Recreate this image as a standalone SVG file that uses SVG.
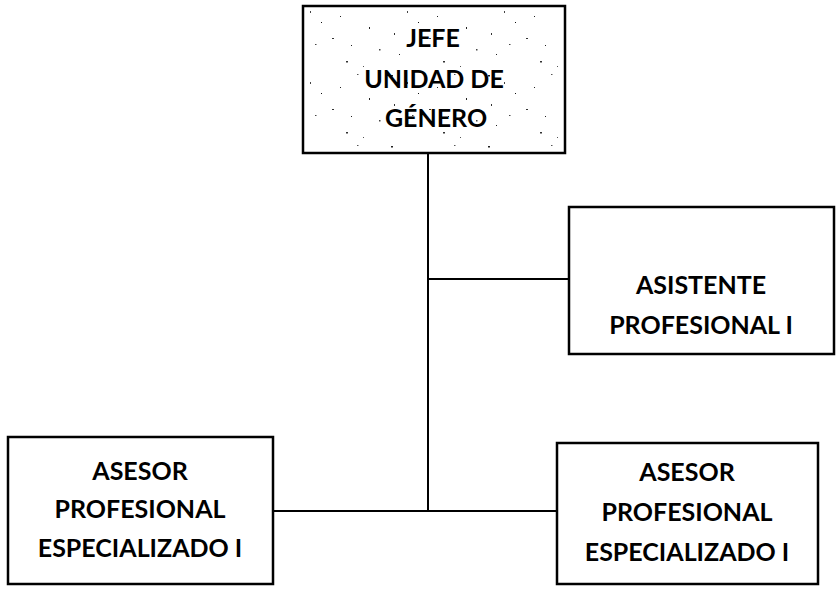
<svg xmlns="http://www.w3.org/2000/svg" width="837" height="592" viewBox="0 0 837 592">
  <style>
    .box { fill: #ffffff; stroke: #000000; stroke-width: 2.5; }
    .lbl { font-family: Lato, "Open Sans", "Liberation Sans", sans-serif; font-weight: bold; font-size: 25px; fill: #000000; text-anchor: middle; }
    .conn { stroke: #000000; stroke-width: 2; fill: none; }
  </style>
  <defs>
    <pattern id="speck" width="97" height="71" patternUnits="userSpaceOnUse">
      <rect x="3" y="4" width="2" height="1.5" fill="#222"/>
      <rect x="19" y="11" width="1" height="2" fill="#444"/>
      <rect x="41" y="38" width="2" height="1" fill="#333"/>
      <rect x="11" y="54" width="1" height="1" fill="#222"/>
      <rect x="66" y="3" width="1.5" height="1" fill="#555"/>
      <rect x="78" y="27" width="1" height="2" fill="#222"/>
      <rect x="55" y="61" width="2" height="1.5" fill="#333"/>
      <rect x="30" y="22" width="1" height="1" fill="#111"/>
      <rect x="88" y="49" width="1.5" height="1.5" fill="#444"/>
      <rect x="6" y="33" width="1" height="2" fill="#333"/>
      <rect x="49" y="16" width="1" height="1" fill="#222"/>
      <rect x="72" y="66" width="1" height="1" fill="#555"/>
      <rect x="24" y="44" width="1.5" height="1" fill="#444"/>
      <rect x="60" y="45" width="1" height="1" fill="#222"/>
    </pattern>
  </defs>
  <rect width="837" height="592" fill="#ffffff"/>
  <g id="connectors">
    <line class="conn" x1="428" y1="153" x2="428" y2="511"/>
    <line class="conn" x1="428" y1="279" x2="569" y2="279"/>
    <line class="conn" x1="273" y1="511" x2="557" y2="511"/>
  </g>
  <g id="jefe">
    <rect class="box" x="303" y="6" width="262" height="147"/>
    <rect x="305" y="8" width="258" height="143" fill="url(#speck)"/>
    <text class="lbl" x="433" y="47">JEFE</text>
    <text class="lbl" x="434" y="88">UNIDAD DE</text>
    <text class="lbl" x="436" y="127">GÉNERO</text>
  </g>
  <g id="asistente">
    <rect class="box" x="569" y="207" width="265" height="147"/>
    <text class="lbl" x="701" y="294">ASISTENTE</text>
    <text class="lbl" x="701" y="334">PROFESIONAL I</text>
  </g>
  <g id="asesor1">
    <rect class="box" x="8" y="437" width="265" height="147"/>
    <text class="lbl" x="140" y="480">ASESOR</text>
    <text class="lbl" x="140" y="518">PROFESIONAL</text>
    <text class="lbl" x="140" y="557">ESPECIALIZADO I</text>
  </g>
  <g id="asesor2">
    <rect class="box" x="557" y="443" width="261" height="141"/>
    <text class="lbl" x="687" y="481">ASESOR</text>
    <text class="lbl" x="687" y="521">PROFESIONAL</text>
    <text class="lbl" x="687" y="561">ESPECIALIZADO I</text>
  </g>
</svg>
